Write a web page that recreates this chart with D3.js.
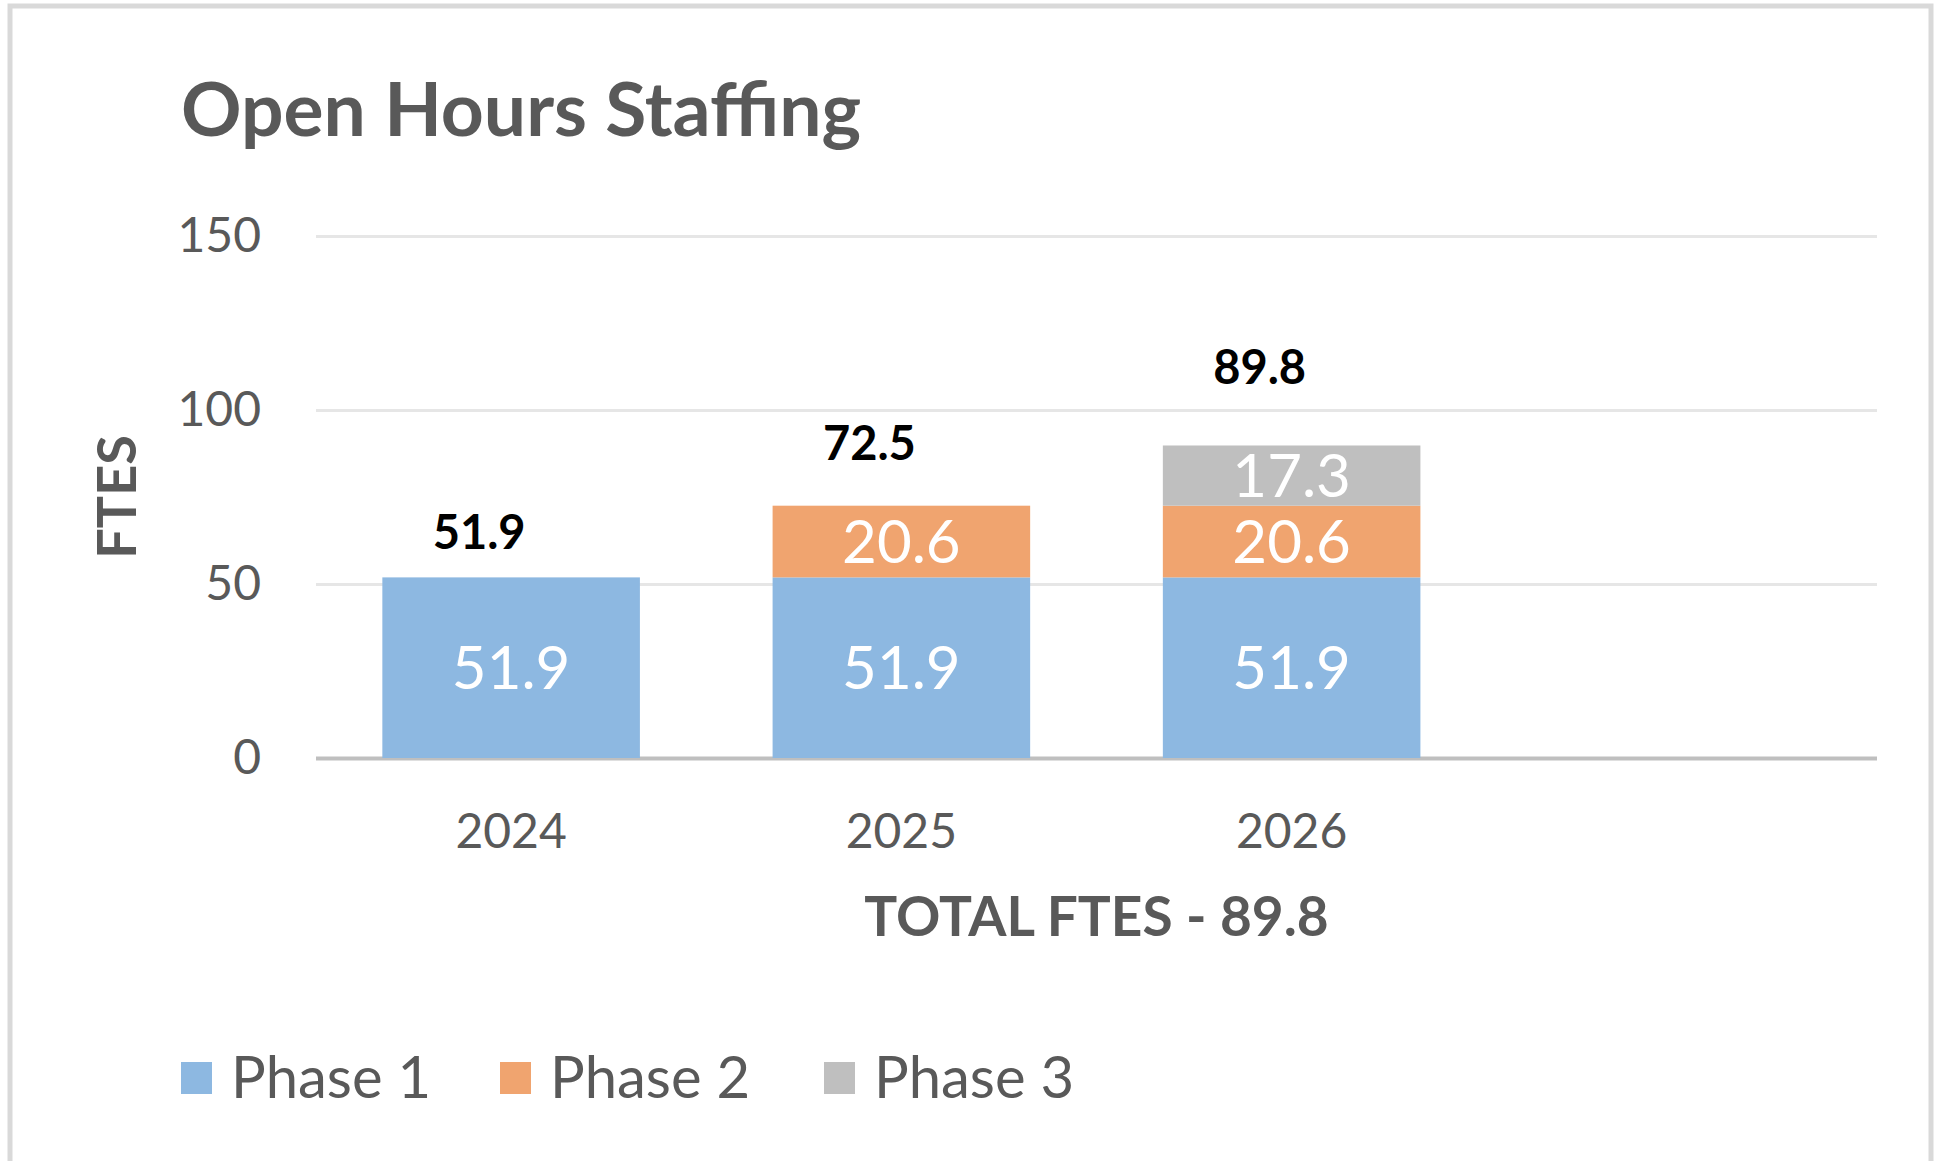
<!DOCTYPE html>
<html>
<head>
<meta charset="utf-8">
<script src="https://cdn.jsdelivr.net/npm/d3@7"></script>
<style>
    body { margin: 0; background: #fff; }
    svg { display: block; font-family: Lato, 'Open Sans', sans-serif; }
</style>
</head>
<body>
<div id="chart"></div>
<script>
// chart data
const years = ['2024', '2025', '2026'];
const phases = ['Phase 1', 'Phase 2', 'Phase 3'];
const phase1 = [51.9, 51.9, 51.9];
const phase2 = [0, 20.6, 20.6];
const phase3 = [0, 0, 17.3];
const totals = [51.9, 72.5, 89.8];
const yTicks = [0, 50, 100, 150];
const colors = ['#8db8e1', '#f0a46f', '#bfbfbf'];

const width = 1936;
const height = 1161;
const marginLeft = 316;
const marginRight = 59;
const marginTop = 236;
const plotBottom = 758;
const font = "Lato, 'Open Sans', sans-serif";

const svg = d3.select('#chart')
    .append('svg')
    .attr('width', width)
    .attr('height', height);

// frame
svg.append('rect')
    .attr('x', 10).attr('y', 6)
    .attr('width', 1921).attr('height', 1250)
    .attr('fill', '#fff')
    .attr('stroke', '#d9d9d9')
    .attr('stroke-width', 5);

//----------------------------------------------------------------------------
// scales (Excel keeps an empty 4th category slot)
const xScale = d3.scaleBand()
    .domain([...years, '_blank'])
    .range([marginLeft, width - marginRight])
    .paddingInner(0.34)
    .paddingOuter(0.17);

const yScale = d3.scaleLinear()
    .domain([0, 150])
    .range([plotBottom, marginTop]);

//----------------------------------------------------------------------------
// gridlines + y axis
const yAxis = d3.axisLeft(yScale)
    .tickValues(yTicks)
    .tickSize(-(width - marginLeft - marginRight))
    .tickPadding(55);

const yg = svg.append('g')
    .attr('transform', `translate(${marginLeft}, 0)`)
    .call(yAxis)
    .attr('font-family', font);
yg.select('.domain').remove();
yg.selectAll('.tick line')
    .attr('stroke', d => d === 0 ? '#bfbfbf' : '#e6e6e6')
    .attr('stroke-width', d => d === 0 ? 4 : 3);
yg.selectAll('.tick text')
    .attr('fill', '#595959')
    .attr('font-size', 48);

// x axis
const xAxis = d3.axisBottom(xScale)
    .tickValues(years)
    .tickSize(0)
    .tickPadding(56);

const xg = svg.append('g')
    .attr('transform', `translate(0, ${plotBottom})`)
    .call(xAxis)
    .attr('font-family', font);
xg.select('.domain').remove();
xg.selectAll('.tick text')
    .attr('fill', '#595959')
    .attr('font-size', 48);

//----------------------------------------------------------------------------
// stacked bars
const table = years.map((y, i) => ({
    year: y,
    'Phase 1': phase1[i],
    'Phase 2': phase2[i],
    'Phase 3': phase3[i]
}));
const stacked = d3.stack().keys(phases)(table);

const layer = svg.append('g')
    .selectAll('g')
    .data(stacked)
    .join('g')
    .attr('fill', (d, i) => colors[i]);

layer.selectAll('rect')
    .data(d => d.filter(s => s[1] - s[0] > 0))
    .join('rect')
    .attr('x', d => xScale(d.data.year))
    .attr('y', d => yScale(d[1]))
    .attr('width', xScale.bandwidth())
    .attr('height', d => yScale(d[0]) - yScale(d[1]));

layer.selectAll('text')
    .data(d => d.filter(s => s[1] - s[0] > 0))
    .join('text')
    .attr('x', d => xScale(d.data.year) + xScale.bandwidth() / 2)
    .attr('y', d => yScale((d[0] + d[1]) / 2))
    .attr('dy', '0.36em')
    .attr('text-anchor', 'middle')
    .attr('fill', '#fff')
    .attr('font-size', 60)
    .text(d => (d[1] - d[0]).toFixed(1));

// totals above the bars
svg.append('g')
    .selectAll('text')
    .data(totals)
    .join('text')
    .attr('x', (d, i) => xScale(years[i]) + xScale.bandwidth() / 2 - 32)
    .attr('y', d => yScale(d * 1.25))
    .attr('dy', '0.36em')
    .attr('text-anchor', 'middle')
    .attr('fill', '#000')
    .attr('font-weight', 'bold')
    .attr('font-size', 47)
    .text(d => d.toFixed(1));

//----------------------------------------------------------------------------
// titles
svg.append('text')
    .attr('x', 181).attr('y', 136)
    .attr('fill', '#595959')
    .attr('font-weight', 'bold')
    .attr('font-size', 75)
    .text('Open Hours Staffing');

svg.append('text')
    .attr('transform', 'translate(136, 497) rotate(-90)')
    .attr('text-anchor', 'middle')
    .attr('fill', '#595959')
    .attr('font-weight', 'bold')
    .attr('font-size', 54)
    .text('FTES');

svg.append('text')
    .attr('x', (marginLeft + width - marginRight) / 2)
    .attr('y', 936)
    .attr('text-anchor', 'middle')
    .attr('fill', '#595959')
    .attr('font-weight', 'bold')
    .attr('font-size', 55)
    .text('TOTAL FTES - 89.8');

//----------------------------------------------------------------------------
// legend
const legendX = [181, 500, 824];
const legend = svg.append('g')
    .selectAll('g')
    .data(phases)
    .join('g')
    .attr('transform', (d, i) => `translate(${legendX[i]}, 1062)`);

legend.append('rect')
    .attr('width', 31).attr('height', 32)
    .attr('fill', (d, i) => colors[i]);

legend.append('text')
    .attr('x', 50).attr('y', 36)
    .attr('fill', '#595959')
    .attr('font-size', 58)
    .text(d => d);
</script>
</body>
</html>
